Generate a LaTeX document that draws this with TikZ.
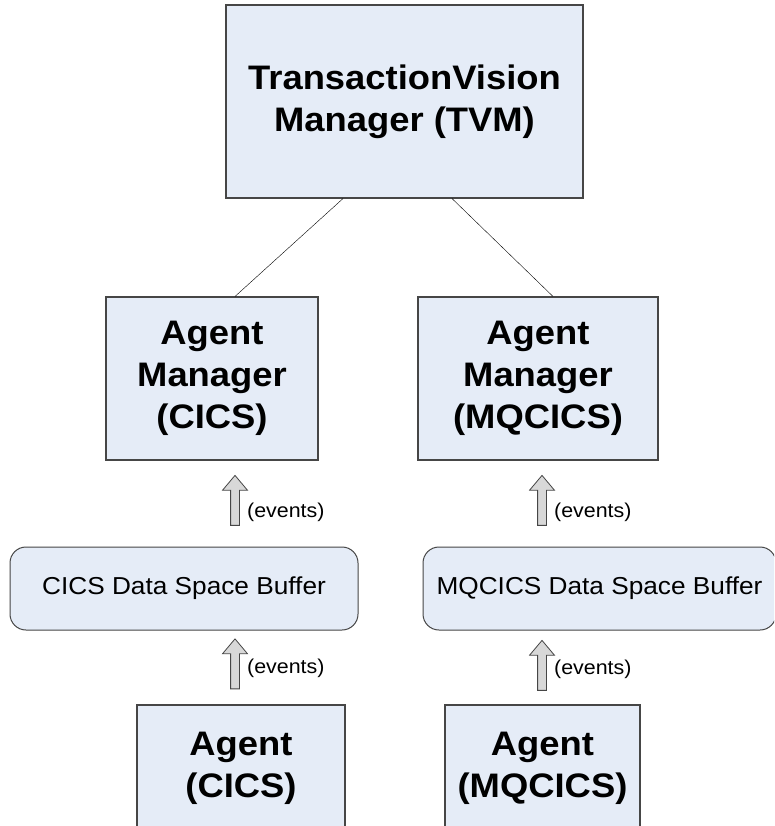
\documentclass[tikz,border=0pt]{standalone}
\usepackage{fontspec}
\setmainfont{Liberation Sans}[FakeStretch=1.07]
\usepackage{tikz}
\usetikzlibrary{shapes.arrows}
\definecolor{boxfill}{RGB}{229,236,247}
\definecolor{boxline}{RGB}{70,70,70}
\definecolor{arrowfill}{RGB}{216,216,216}

\begin{document}
\begin{tikzpicture}[x=1pt,y=-1pt,
        mgrbox/.style={draw=boxline,line width=1.1pt,fill=boxfill,inner sep=0pt,align=center,font=\fontsize{34}{42}\selectfont\bfseries},
        bufbox/.style={draw=boxline,line width=1pt,fill=boxfill,rounded corners=16pt,inner sep=0pt,font=\fontsize{24.5}{28}\selectfont},
        evarrow/.style={single arrow,draw=boxline,line width=0.8pt,fill=arrowfill,rotate=90,minimum height=50pt,inner sep=4pt,single arrow head extend=8pt,single arrow tip angle=80},
        evlabel/.style={anchor=west,inner sep=0pt,font=\fontsize{20}{24}\selectfont}]
                \useasboundingbox (0,0) rectangle (774,826);
                \fill[white] (0,0) rectangle (774,826);
                \clip (0,0) rectangle (774,826);

                % managers
                \node[mgrbox,minimum width=357pt,minimum height=193pt] (tvm) at (404.5,101.5) {TransactionVision\\Manager (TVM)};
                \node[mgrbox,minimum width=212pt,minimum height=163pt] (amcics) at (212,378.5) {Agent\\Manager\\(CICS)};
                \node[mgrbox,minimum width=240pt,minimum height=163pt] (ammq) at (538,378.5) {Agent\\Manager\\(MQCICS)};
                \draw[thin] ([xshift=-61.5pt]tvm.south) -- ([xshift=23pt]amcics.north);
                \draw[thin] ([xshift=47.5pt]tvm.south) -- ([xshift=15pt]ammq.north);

                % buffers
                \node[bufbox,minimum width=348pt,minimum height=83pt] (bufcics) at (184,588.5) {CICS Data Space Buffer};
                \node[bufbox,minimum width=353pt,minimum height=83pt] (bufmq) at (599.5,588.5) {MQCICS Data Space Buffer};

                % event arrows
                \node[evarrow] (evcics1) at (235,503) {};
                \node[evarrow] (evcics2) at (235,666.5) {};
                \node[evarrow] (evmq1) at (542,503) {};
                \node[evarrow] (evmq2) at (542,668) {};
                \node[evlabel] (lbcics1) at ([xshift=12pt,yshift=-9pt]evcics1.center) {(events)};
                \node[evlabel] (lbcics2) at ([xshift=12pt,yshift=-2pt]evcics2.center) {(events)};
                \node[evlabel] (lbmq1) at ([xshift=12pt,yshift=-9pt]evmq1.center) {(events)};
                \node[evlabel] (lbmq2) at ([xshift=12pt,yshift=-1pt]evmq2.center) {(events)};

                % agents
                \node[mgrbox,minimum width=208pt,minimum height=126pt] (agcics) at (241,768) {Agent\\(CICS)};
                \node[mgrbox,minimum width=195pt,minimum height=126pt] (agmq) at (542.5,768) {Agent\\(MQCICS)};
\end{tikzpicture}
\end{document}
